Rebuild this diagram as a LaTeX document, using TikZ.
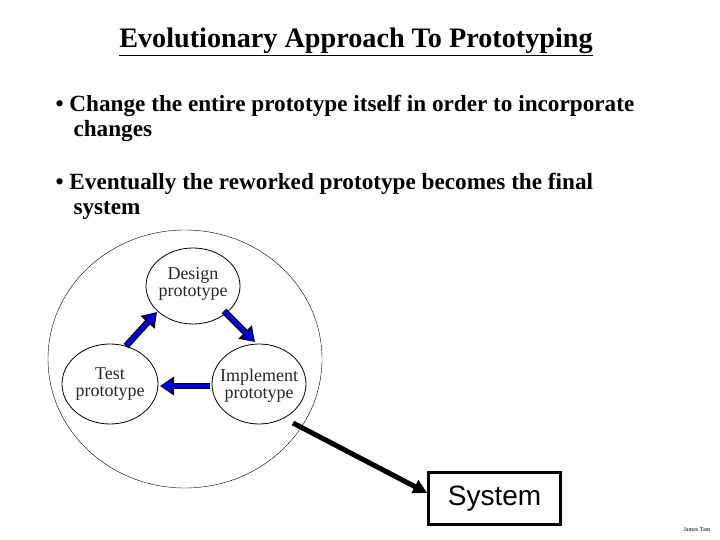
\documentclass[tikz,border=0pt]{standalone}
\usepackage{fontspec}
\setmainfont{Liberation Serif}
\newfontfamily\arialf{Liberation Sans}
\usetikzlibrary{arrows.meta}
\begin{document}
\begin{tikzpicture}[x=1pt,y=-1pt,
  bul/.style={anchor=west,font=\fontsize{23.2}{25}\selectfont\bfseries},
  lab/.style={align=center,font=\fontsize{18}{17}\selectfont,text=black!85},
  bi/.style={line width=4pt,blue!85!black,-{Triangle[length=10pt,width=13pt]}}]
\useasboundingbox (0,0) rectangle (720,540);
\node[font=\fontsize{28.2}{30}\selectfont\bfseries] (title) at (356,42) {\underline{Evolutionary Approach To Prototyping}};
\node[bul] (b1) at (52,106) {• Change the entire prototype itself in order to incorporate};
\node[bul] (b1b) at (70,131) {changes};
\node[bul] (b2) at (52,184) {• Eventually the reworked prototype becomes the final};
\node[bul] (b2b) at (70,210) {system};
\draw[thin] (185,359) ellipse [x radius=137, y radius=129];
\draw[thick] (193,286) ellipse [x radius=47, y radius=38];
\draw[thick] (259,384) ellipse [x radius=47, y radius=40];
\draw[thick] (110,384) ellipse [x radius=48, y radius=40];
\node[lab] (d) at (193,284) {Design\\prototype};
\node[lab] (i) at (259,386) {Implement\\prototype};
\node[lab] (t) at (110,384) {Test\\prototype};
\coordinate (a1) at (126,346); \coordinate (a2) at (157,312);
\coordinate (c1) at (224,311); \coordinate (c2) at (255,342);
\coordinate (e1) at (210,386); \coordinate (e2) at (160,386);
\foreach \p/\q in {a1/a2,c1/c2,e1/e2}{
  \draw[line width=6.5pt,-{Triangle[length=14pt,width=18pt]}] (\p) -- (\q);
  \draw[bi,shorten >=1.5pt] (\p) -- (\q);}
\node[draw,line width=2.5pt,minimum width=132pt,minimum height=52pt,font=\arialf\fontsize{28}{28}\selectfont] (s) at (494.5,498.5) {System};
\coordinate (k) at (293,423);
\draw[line width=5pt,-{Triangle[length=14pt,width=14pt]}] (k) -- (s.west|-0,493);
\node[font=\fontsize{6}{6}\selectfont] (jt) at (697,530) {James Tam};
\end{tikzpicture}
\end{document}
